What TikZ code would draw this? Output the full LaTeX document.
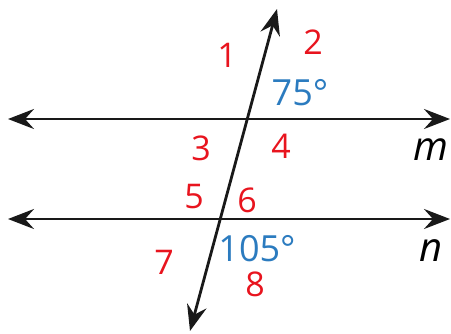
\documentclass[tikz,border=0pt]{standalone}
\usepackage{fontspec}
\setmainfont{Open Sans}
\usetikzlibrary{arrows.meta}
\definecolor{angblue}{HTML}{2B7BBF}
\definecolor{hand}{HTML}{E8141E}
\tikzset{
  line/.style={line width=2.8pt, black!90, {Stealth[length=26pt,width=20pt,inset=9pt]}-{Stealth[length=26pt,width=20pt,inset=9pt]}},
  ang/.style={text=angblue, font=\fontsize{36}{36}\selectfont, inner sep=0pt},
  lbl/.style={font=\fontsize{40}{40}\selectfont\itshape, inner sep=0pt},
  num/.style={text=hand, font=\fontsize{34}{34}\selectfont, inner sep=0pt}
}
\begin{document}
\begin{tikzpicture}[x=1pt,y=-1pt]
\useasboundingbox (0,0) rectangle (451,333);
\coordinate (mL) at (8,119);
\coordinate (mR) at (450,119);
\coordinate (nL) at (8,219);
\coordinate (nR) at (450,219);
\coordinate (tT) at (277,9);
\coordinate (tB) at (190,331);
\draw[line] (mL) -- (mR);
\draw[line] (nL) -- (nR);
\draw[line] (tB) -- (tT);
\node[ang] (a75) at (300,93) {75°};
\node[ang] (a105) at (257,249) {105°};
\node[lbl] (m) at (431,150) {m};
\node[lbl] (n) at (431,251) {n};
\node[num] (n1) at (227,55) {1};
\node[num] (n2) at (313,42) {2};
\node[num] (n3) at (201,148) {3};
\node[num] (n4) at (281,146) {4};
\node[num] (n5) at (194,197) {5};
\node[num] (n6) at (247,200) {6};
\node[num] (n7) at (164,262) {7};
\node[num] (n8) at (255,284) {8};
\end{tikzpicture}
\end{document}
